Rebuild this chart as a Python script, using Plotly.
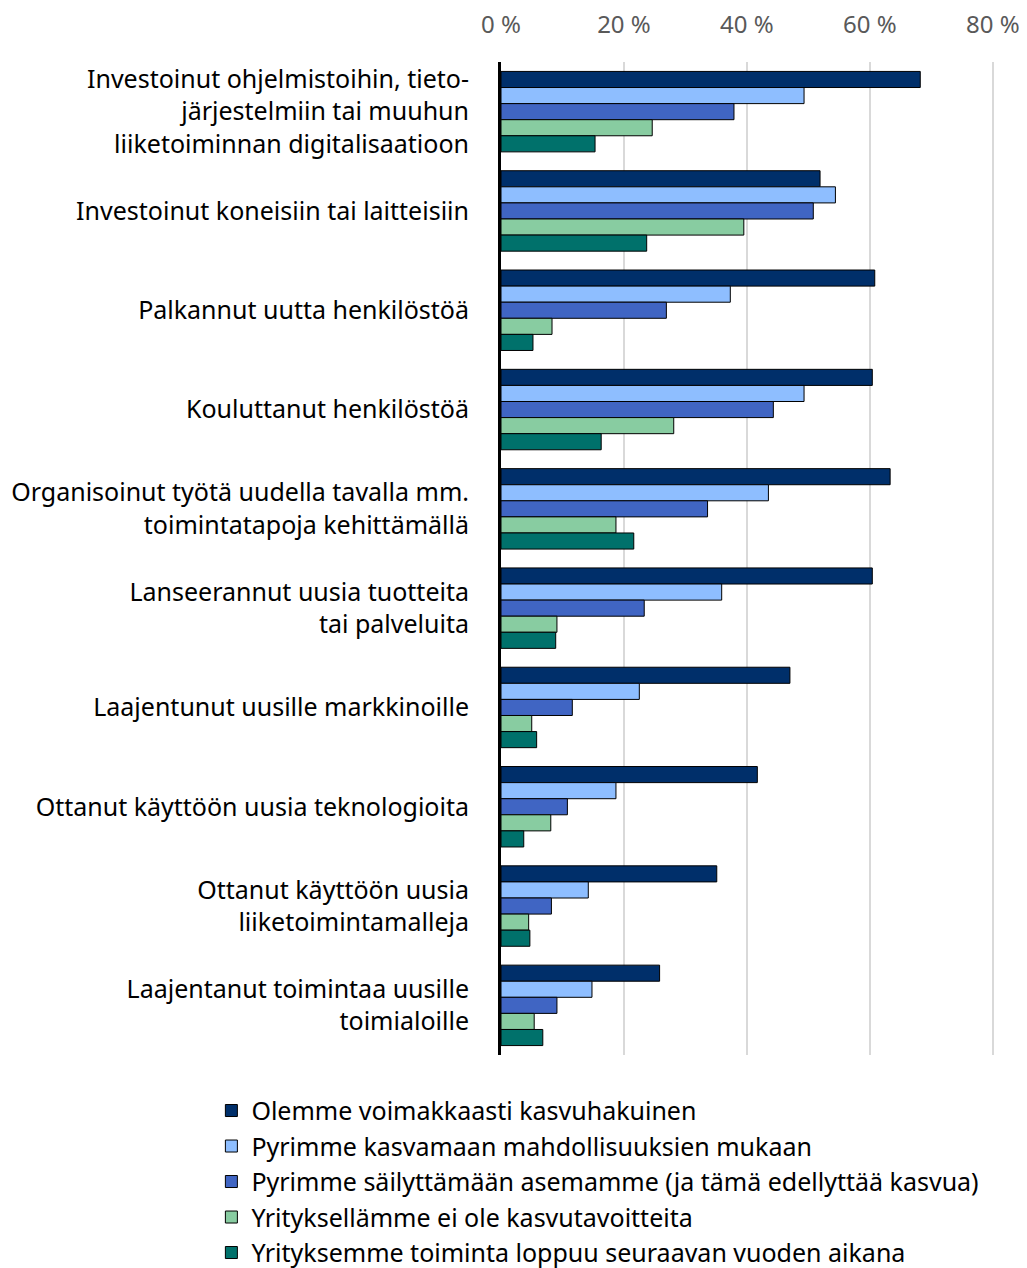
import plotly.graph_objects as go

categories = [
    "Investoinut ohjelmistoihin, tieto-<br>järjestelmiin tai muuhun<br>liiketoiminnan digitalisaatioon",
    "Investoinut koneisiin tai laitteisiin",
    "Palkannut uutta henkilöstöä",
    "Kouluttanut henkilöstöä",
    "Organisoinut työtä uudella tavalla mm.<br>toimintatapoja kehittämällä",
    "Lanseerannut uusia tuotteita<br>tai palveluita",
    "Laajentunut uusille markkinoille",
    "Ottanut käyttöön uusia teknologioita",
    "Ottanut käyttöön uusia<br>liiketoimintamalleja",
    "Laajentanut toimintaa uusille<br>toimialoille",
]

series_names = [
    "Olemme voimakkaasti kasvuhakuinen",
    "Pyrimme kasvamaan mahdollisuuksien mukaan",
    "Pyrimme säilyttämään asemamme (ja tämä edellyttää kasvua)",
    "Yrityksellämme ei ole kasvutavoitteita",
    "Yrityksemme toiminta loppuu seuraavan vuoden aikana",
]

voimakkaasti = [68.2, 51.9, 60.8, 60.4, 63.3, 60.4, 47.0, 41.7, 35.1, 25.8]
mahdollisuuksien = [49.3, 54.4, 37.3, 49.3, 43.5, 35.9, 22.5, 18.7, 14.2, 14.8]
sailyttamaan = [37.9, 50.8, 26.9, 44.3, 33.6, 23.3, 11.6, 10.8, 8.2, 9.1]
ei_tavoitteita = [24.6, 39.5, 8.3, 28.1, 18.7, 9.1, 5.0, 8.1, 4.5, 5.4]
loppuu = [15.3, 23.7, 5.2, 16.3, 21.6, 8.9, 5.8, 3.7, 4.7, 6.8]

series_values = [voimakkaasti, mahdollisuuksien, sailyttamaan, ei_tavoitteita, loppuu]
colors = ["#002F6A", "#8EBEFF", "#4065C3", "#88CCA1", "#00716B"]

tick_vals = [0, 20, 40, 60, 80]
tick_text = ["0 %", "20 %", "40 %", "60 %", "80 %"]

FONT = "Noto Sans"

fig = go.Figure()
for name, vals, col in zip(series_names, series_values, colors):
    fig.add_trace(go.Bar(
        y=categories, x=vals, name=name, orientation="h",
        marker=dict(color=col, line=dict(color="#000000", width=1)),
    ))

fig.update_layout(
    width=1027, height=1268,
    margin=dict(l=501, r=17, t=62, b=213, autoexpand=False),
    paper_bgcolor="white", plot_bgcolor="white",
    barmode="group", bargap=0.19, bargroupgap=0.0,
    font=dict(family=FONT, size=25, color="#000000"),
    showlegend=True,
    legend=dict(
        orientation="v", x=-0.569, xanchor="left", y=-0.033, yanchor="top",
        font=dict(family=FONT, size=25, color="#000000"),
        traceorder="normal", itemwidth=30, tracegroupgap=0,
    ),
)
fig.update_xaxes(
    range=[0, 82.8], side="top", tickvals=tick_vals, ticktext=tick_text,
    showgrid=True, gridcolor="#D9D9D9", gridwidth=2,
    zeroline=False, showline=False,
    tickfont=dict(family=FONT, size=24, color="#595959"),
    ticks="", ticklabelstandoff=23, ticklabeloverflow="allow",
)
fig.update_yaxes(
    autorange="reversed", showline=True, linecolor="#000000", linewidth=3,
    showgrid=False, ticks="", ticklabelstandoff=24,
    tickfont=dict(family=FONT, size=25, color="#000000"),
)

fig.write_html(
    "out.html",
    config={"displayModeBar": False},
    post_script="document.body.style.margin='0';document.body.style.overflow='hidden';",
)
